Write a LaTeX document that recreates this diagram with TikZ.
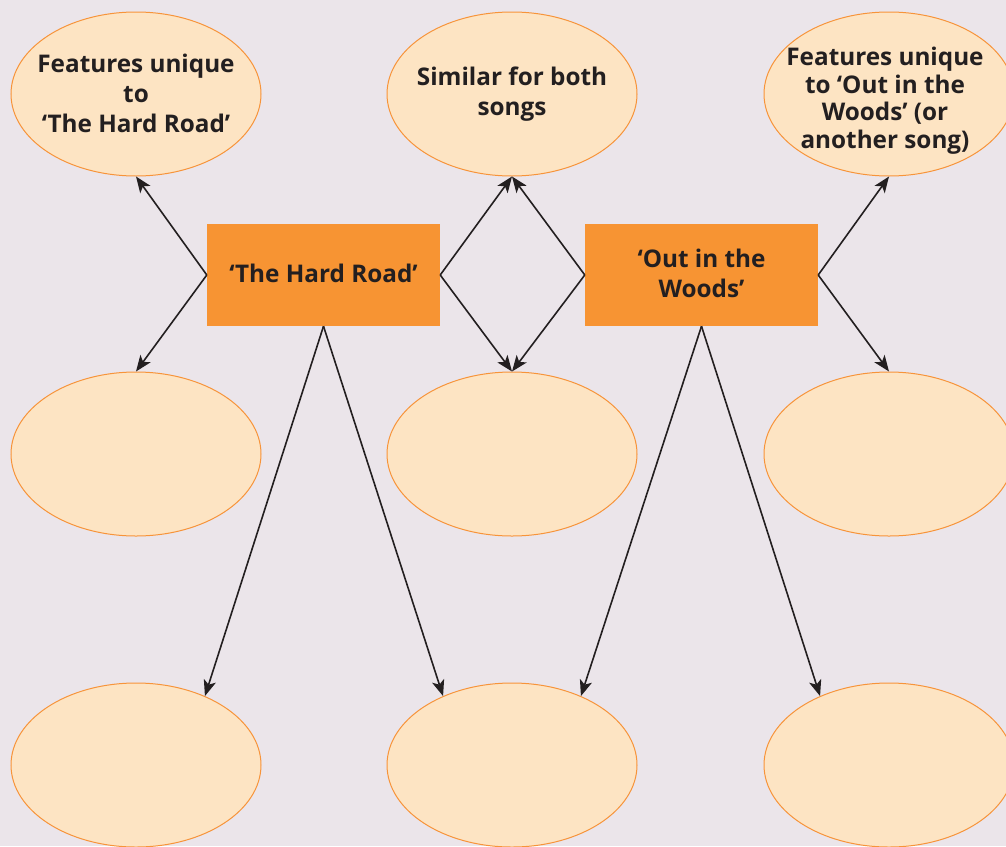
\documentclass[tikz,border=0pt]{standalone}
\usepackage{fontspec}
\setmainfont{Open Sans}
\usetikzlibrary{shapes.geometric,arrows.meta}
\definecolor{bg}{HTML}{EBE5EA}
\definecolor{ellfill}{HTML}{FDE4C3}
\definecolor{ellline}{HTML}{F7943A}
\definecolor{boxfill}{HTML}{F79433}
\definecolor{ink}{HTML}{231F20}
\begin{document}
\begin{tikzpicture}[x=1pt,y=-1pt,
 oval/.style={ellipse, draw=ellline, fill=ellfill, line width=1pt, minimum width=250pt, minimum height=164pt, inner sep=0pt},
 songbox/.style={rectangle, fill=boxfill, minimum width=233pt, minimum height=102pt, inner sep=0pt},
 lbl/.style={font=\fontsize{24.3}{30}\selectfont\bfseries, text=ink, align=center},
 lbltight/.style={font=\fontsize{24.3}{27.5}\selectfont\bfseries, text=ink, align=center},
 conn/.style={draw=ink, line width=1.6pt, -{Stealth[length=16pt,width=12.5pt,inset=4pt]}}]
\fill[bg] (0,0) rectangle (1006,846);
\useasboundingbox (0,0) rectangle (1006,846);

\node[oval] (e11) at (136,94) {};
\node[oval] (e12) at (512,94) {};
\node[oval] (e13) at (889,94) {};
\node[oval] (e21) at (136,454) {};
\node[oval] (e22) at (512,454) {};
\node[oval] (e23) at (889,454) {};
\node[oval] (e31) at (136,765) {};
\node[oval] (e32) at (512,765) {};
\node[oval] (e33) at (889,765) {};

\node[lbl] (t11) at (136,93) {Features unique\\to\\‘The Hard Road’};
\node[lbl] (t12) at (512,94.5) {Similar for both\\songs};
\node[lbltight] (t13) at (885,100.5) {Features unique\\to ‘Out in the\\Woods’ (or\\another song)};

\node[songbox] (b1) at (323.5,275) {};
\node[songbox] (b2) at (701.5,275) {};
\node[lbl] (tb1) at (323.5,273) {‘The Hard Road’};
\node[lbl] (tb2) at (701.5,273) {‘Out in the\\Woods’};

\draw[conn] (b1.west) -- (e11.south);
\draw[conn] (b1.west) -- (e21.north);
\draw[conn] (b1.east) -- (e12.south);
\draw[conn] (b1.east) -- (e22.north);
\draw[conn] (b2.west) -- (e12.south);
\draw[conn] (b2.west) -- (e22.north);
\draw[conn] (b2.east) -- (e13.south);
\draw[conn] (b2.east) -- (e23.north);
\draw[conn] (b1.south) -- (e31.45);
\draw[conn] (b1.south) -- (e32.135);
\draw[conn] (b2.south) -- (e32.45);
\draw[conn] (b2.south) -- (e33.135);
\end{tikzpicture}
\end{document}
